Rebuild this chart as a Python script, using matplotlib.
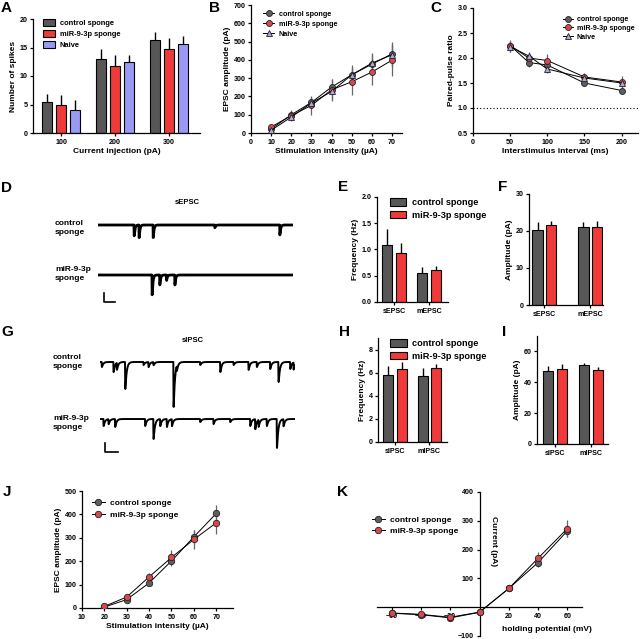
import numpy as np
import matplotlib
matplotlib.use("Agg")
import matplotlib.pyplot as plt
from matplotlib.patches import Patch
from matplotlib.lines import Line2D

plt.rcParams['font.family'] = ['Liberation Sans', 'DejaVu Sans']
plt.rcParams['font.weight'] = 'bold'
plt.rcParams['axes.labelweight'] = 'bold'
plt.rcParams['axes.linewidth'] = 0.9
plt.rcParams['xtick.major.width'] = 0.9
plt.rcParams['ytick.major.width'] = 0.9
plt.rcParams['xtick.major.size'] = 2.5
plt.rcParams['ytick.major.size'] = 2.5
plt.rcParams['xtick.labelsize'] = 5.1
plt.rcParams['ytick.labelsize'] = 5.1
plt.rcParams['xtick.major.pad'] = 1.5
plt.rcParams['ytick.major.pad'] = 1.5
plt.rcParams['axes.labelsize'] = 6.0

# ---------------- data ----------------
groups = ["control sponge", "miR-9-3p sponge", "Naive"]

# A
a_cats = ["100", "200", "300"]
a_ctrl = [5.4, 13.0, 16.4]
a_ctrl_err = [1.4, 1.7, 1.3]
a_mir = [5.0, 11.7, 14.7]
a_mir_err = [1.7, 2.0, 2.0]
a_naive = [4.0, 12.4, 15.6]
a_naive_err = [1.8, 1.2, 1.4]

# B
b_x = [10, 20, 30, 40, 50, 60, 70]
b_ctrl = [22, 100, 167, 251, 318, 376, 433]
b_ctrl_err = [10, 20, 30, 45, 55, 60, 65]
b_mir = [33, 95, 151, 236, 280, 333, 398]
b_mir_err = [10, 30, 50, 60, 70, 70, 85]
b_naive = [15, 87, 164, 227, 318, 382, 427]
b_naive_err = [10, 15, 25, 40, 45, 50, 60]

# C
c_x = [50, 75, 100, 150, 200]
c_ctrl = [2.25, 1.91, 1.86, 1.50, 1.35]
c_ctrl_err = [0.12, 0.08, 0.08, 0.06, 0.07]
c_mir = [2.25, 2.00, 1.95, 1.62, 1.52]
c_mir_err = [0.10, 0.10, 0.14, 0.08, 0.12]
c_naive = [2.23, 2.04, 1.78, 1.60, 1.50]
c_naive_err = [0.10, 0.08, 0.08, 0.06, 0.07]

# E / F
ef_cats = ["sEPSC", "mEPSC"]
e_ctrl = [1.09, 0.56]
e_ctrl_err = [0.30, 0.10]
e_mir = [0.93, 0.60]
e_mir_err = [0.20, 0.08]
f_ctrl = [20.4, 21.2]
f_ctrl_err = [1.9, 1.3]
f_mir = [21.7, 21.2]
f_mir_err = [1.0, 1.4]

# H / I
hi_cats = ["sIPSC", "mIPSC"]
h_ctrl = [5.8, 5.73]
h_ctrl_err = [0.8, 0.65]
h_mir = [6.34, 6.4]
h_mir_err = [0.6, 0.35]
i_ctrl = [47.3, 51.0]
i_ctrl_err = [3.0, 1.5]
i_mir = [48.8, 48.2]
i_mir_err = [2.8, 1.7]

# J
j_x = [20, 30, 40, 50, 60, 70]
j_ctrl = [4, 36, 107, 201, 304, 404]
j_ctrl_err = [5, 8, 12, 20, 30, 36]
j_mir = [7, 47, 133, 216, 293, 364]
j_mir_err = [5, 10, 15, 30, 40, 48]

# K
k_x = [-60, -40, -20, 0, 20, 40, 60]
k_ctrl = [-21, -26, -37, -18, 65, 155, 265]
k_ctrl_err = [8, 8, 8, 8, 8, 15, 20]
k_mir = [-20, -25, -35, -17, 65, 170, 273]
k_mir_err = [8, 8, 8, 8, 8, 20, 30]

# traces: event times (s) and amplitudes (pA)
d_ctrl_t = [3.32, 3.78, 5.08, 10.77, 16.77]
d_ctrl_a = [12, 14, 14, 3, 11]
d_mir_t = [4.98, 5.69, 6.31, 7.08]
d_mir_a = [22, 11, 6, 11]
g_ctrl_t = [0.15, 1.23, 1.54, 2.31, 4.0, 4.46, 4.92, 6.77, 7.08, 9.23, 11.08,
            12.31, 13.69, 14.46, 15.69, 16.46, 17.54, 17.85]
g_ctrl_a = [28, 56, 39, 150, 17, 28, 17, 250, 28, 17, 56, 17, 44, 28, 39, 111, 39, 39]
g_mir_t = [0.31, 0.77, 1.38, 4.15, 4.92, 5.54, 6.15, 6.62, 9.23, 10.46, 12.0,
           13.85, 14.31, 14.62, 15.38, 16.31, 16.92]
g_mir_a = [39, 28, 44, 39, 111, 39, 44, 39, 17, 28, 17, 39, 56, 39, 39, 161, 39]

# ---------------- style ----------------
C_GREY = '#575757'
C_RED = '#f03a3a'
C_NAIVE = '#9a9af5'
M_GREY = '#5e5e5e'
M_RED = '#d9484e'
M_NAIVE = '#aaaadf'

W, H = 640, 639
fig = plt.figure(figsize=(6.4, 6.39), dpi=100)


def ax_px(l, t, r, b):
    return fig.add_axes([l / W, 1 - b / H, (r - l) / W, (b - t) / H])


def ftext(x, y, s, **kw):
    fig.text(x / W, 1 - y / H, s, **kw)


def clean(ax):
    ax.spines['top'].set_visible(False)
    ax.spines['right'].set_visible(False)


def bars(ax, x0, series, colors, width, offsets):
    for vals, errs, col, off in zip(series[0], series[1], colors, offsets):
        xs = np.arange(len(vals)) + off
        ax.bar(xs, vals, width=width, color=col, edgecolor='black', linewidth=0.8, zorder=2)
        ax.errorbar(xs, vals, yerr=[np.zeros(len(vals)), errs], fmt='none',
                    ecolor='black', elinewidth=1.0, capsize=0, zorder=1)


def lines(ax, x, vals, errs, mk, mc, ms=4.3):
    ax.errorbar(x, vals, yerr=errs, fmt='none', ecolor='#666666', elinewidth=0.9,
                capsize=0, zorder=1)
    ax.plot(x, vals, color='black', lw=0.7, marker=mk, ms=ms, mfc=mc, mec='#222222',
            mew=0.6, zorder=3)


# ---------------- Panel A ----------------
ax = ax_px(33, 19, 200, 133)
clean(ax)
bars(ax, 0, ([a_ctrl, a_mir, a_naive], [a_ctrl_err, a_mir_err, a_naive_err]),
     [C_GREY, C_RED, C_NAIVE], 0.19, [-0.26, 0, 0.26])
ax.set_xlim(-0.52, 2.57)
ax.set_ylim(0, 20)
ax.set_yticks([0, 5, 10, 15, 20])
ax.set_xticks(range(len(a_cats)))
ax.set_xticklabels(a_cats)
ax.set_xlabel("Current injection (pA)", labelpad=2)
ax.set_ylabel("Number of spikes", labelpad=2)
h = [Patch(facecolor=c, edgecolor='black', linewidth=0.8) for c in [C_GREY, C_RED, C_NAIVE]]
ax.legend(h, groups, loc='upper left', bbox_to_anchor=(0.03, 1.04), frameon=False,
          fontsize=5.4, handlelength=1.7, handleheight=1.0, labelspacing=0.4,
          handletextpad=0.6, borderaxespad=0.2)

# ---------------- Panel B ----------------
ax = ax_px(251, 5, 402, 133)
clean(ax)
lines(ax, b_x, b_ctrl, b_ctrl_err, 'o', M_GREY)
lines(ax, b_x, b_mir, b_mir_err, 'o', M_RED)
lines(ax, b_x, b_naive, b_naive_err, '^', M_NAIVE)
ax.set_xlim(0, 75)
ax.set_ylim(0, 700)
ax.set_xticks(range(0, 71, 10))
ax.set_yticks(range(0, 701, 100))
ax.set_xlabel("Stimulation intensity (\u00b5A)", labelpad=2)
ax.set_ylabel("EPSC amplitude (pA)", labelpad=2)
hl = [Line2D([], [], color='black', lw=0.7, marker=m, ms=4.3, mfc=c, mec='#222222', mew=0.6)
      for m, c in [('o', M_GREY), ('o', M_RED), ('^', M_NAIVE)]]
ax.legend(hl, groups, loc='upper left', bbox_to_anchor=(0.05, 0.99), frameon=False,
          fontsize=5.2, handlelength=1.6, labelspacing=0.4, handletextpad=0.6,
          borderaxespad=0.2)

# ---------------- Panel C ----------------
ax = ax_px(473, 8, 638, 133)
clean(ax)
ax.axhline(1.0, color='black', ls=(0, (1, 2)), lw=0.8, zorder=0)
lines(ax, c_x, c_ctrl, c_ctrl_err, 'o', M_GREY)
lines(ax, c_x, c_mir, c_mir_err, 'o', M_RED)
lines(ax, c_x, c_naive, c_naive_err, '^', M_NAIVE)
ax.set_xlim(0, 222)
ax.set_ylim(0.5, 3.0)
ax.set_xticks([0, 50, 100, 150, 200])
ax.set_yticks([0.5, 1.0, 1.5, 2.0, 2.5, 3.0])
ax.set_yticklabels(["0.5", "1.0", "1.5", "2.0", "2.5", "3.0"])
ax.set_xlabel("Interstimulus interval (ms)", labelpad=2)
ax.set_ylabel("Paired-pulse ratio", labelpad=2)
ax.legend(hl, groups, loc='upper left', bbox_to_anchor=(0.52, 0.97), frameon=False,
          fontsize=5.1, handlelength=1.4, labelspacing=0.25, handletextpad=0.5,
          borderaxespad=0.2)


# ---------------- traces ----------------
def trace(times, amps, tau_r, tau_d, t):
    y = np.zeros_like(t)
    tp = tau_d * tau_r / (tau_d - tau_r) * np.log(tau_d / tau_r)
    norm = np.exp(-tp / tau_d) - np.exp(-tp / tau_r)
    for ti, ai in zip(times, amps):
        dt = t - ti
        m = dt > 0
        y[m] -= ai * (np.exp(-dt[m] / tau_d) - np.exp(-dt[m] / tau_r)) / norm
    return y


t = np.linspace(0, 18, 6000)


def trace_ax(l, t_, r, b, ylim, tt, aa, taur, taud, lw):
    a = ax_px(l, t_, r, b)
    a.set_axis_off()
    a.patch.set_alpha(0)
    a.plot(t, trace(tt, aa, taur, taud, t), color='black', lw=lw, solid_joinstyle='round')
    a.set_xlim(0, 18)
    a.set_ylim(*ylim)
    return a


# D
ftext(187, 202, "sEPSC", ha='center', va='center', fontsize=5.5)
ftext(55, 228, "control\nsponge", ha='left', va='center', fontsize=6.0, linespacing=1.25)
ftext(55, 274, "miR-9-3p\nsponge", ha='left', va='center', fontsize=6.0, linespacing=1.25)
trace_ax(98, 205, 293, 245, (-22.2, 22.2), d_ctrl_t, d_ctrl_a, 0.008, 0.07, 2.0)
a = trace_ax(98, 250, 293, 310, (-38.9, 27.8), d_mir_t, d_mir_a, 0.008, 0.07, 2.0)
a.plot([0.55, 0.55, 1.55], [-20, -30, -30], color='black', lw=1.2, clip_on=False)

# G
ftext(193, 341, "sIPSC", ha='center', va='center', fontsize=5.5)
ftext(53, 362, "control\nsponge", ha='left', va='center', fontsize=6.0, linespacing=1.25)
ftext(53, 423, "miR-9-3p\nsponge", ha='left', va='center', fontsize=6.0, linespacing=1.25)
trace_ax(100, 345, 295, 410, (-267, 94.5), g_ctrl_t, g_ctrl_a, 0.01, 0.12, 1.4)
a = trace_ax(100, 405, 295, 460, (-228, 78), g_mir_t, g_mir_a, 0.01, 0.12, 1.4)
a.plot([0.46, 0.46, 1.66], [-133, -183, -183], color='black', lw=1.2, clip_on=False)

# ---------------- Panel E ----------------
leg2 = [Patch(facecolor=c, edgecolor='black', linewidth=0.8) for c in [C_GREY, C_RED]]
ax = ax_px(377, 197, 448, 302)
clean(ax)
bars(ax, 0, ([e_ctrl, e_mir], [e_ctrl_err, e_mir_err]), [C_GREY, C_RED], 0.28, [-0.2, 0.2])
ax.set_xlim(-0.49, 1.54)
ax.set_ylim(0, 2.0)
ax.set_yticks([0, 0.5, 1.0, 1.5, 2.0])
ax.set_yticklabels(["0.0", "0.5", "1.0", "1.5", "2.0"])
ax.set_xticks([0, 1])
ax.set_xticklabels(ef_cats)
ax.set_ylabel("Frequency (Hz)", labelpad=2)
ax.legend(leg2, groups[:2], loc='upper left', bbox_to_anchor=(0.1, 1.04), frameon=False,
          fontsize=6.6, handlelength=1.8, handleheight=0.9, labelspacing=0.35,
          handletextpad=0.6, borderaxespad=0.2)

# ---------------- Panel F ----------------
ax = ax_px(529, 194, 603, 305)
clean(ax)
bars(ax, 0, ([f_ctrl, f_mir], [f_ctrl_err, f_mir_err]), [C_GREY, C_RED], 0.22, [-0.145, 0.145])
ax.set_xlim(-0.33, 1.28)
ax.set_ylim(0, 30)
ax.set_yticks([0, 10, 20, 30])
ax.set_xticks([0, 1])
ax.set_xticklabels(ef_cats)
ax.set_ylabel("Amplitude (pA)", labelpad=2)

# ---------------- Panel H ----------------
ax = ax_px(378, 338, 447, 442)
clean(ax)
bars(ax, 0, ([h_ctrl, h_mir], [h_ctrl_err, h_mir_err]), [C_GREY, C_RED], 0.29, [-0.2, 0.2])
ax.set_xlim(-0.49, 1.51)
ax.set_ylim(0, 9)
ax.set_yticks([0, 2, 4, 6, 8])
ax.set_xticks([0, 1])
ax.set_xticklabels(hi_cats)
ax.set_ylabel("Frequency (Hz)", labelpad=2)
ax.legend(leg2, groups[:2], loc='upper left', bbox_to_anchor=(0.1, 1.04), frameon=False,
          fontsize=6.6, handlelength=1.8, handleheight=0.9, labelspacing=0.35,
          handletextpad=0.6, borderaxespad=0.2)

# ---------------- Panel I ----------------
ax = ax_px(537, 336, 608, 444)
clean(ax)
bars(ax, 0, ([i_ctrl, i_mir], [i_ctrl_err, i_mir_err]), [C_GREY, C_RED], 0.28, [-0.19, 0.19])
ax.set_xlim(-0.5, 1.47)
ax.set_ylim(0, 70)
ax.set_yticks([0, 20, 40, 60])
ax.set_xticks([0, 1])
ax.set_xticklabels(hi_cats)
ax.set_ylabel("Amplitude (pA)", labelpad=2)

# ---------------- Panel J ----------------
ax = ax_px(82, 491, 233, 608)
clean(ax)
lines(ax, j_x, j_ctrl, j_ctrl_err, 'o', M_GREY, 4.6)
lines(ax, j_x, j_mir, j_mir_err, 'o', M_RED, 4.6)
ax.set_xlim(10, 77.5)
ax.set_ylim(0, 500)
ax.set_xticks(range(10, 71, 10))
ax.set_yticks(range(0, 501, 100))
ax.set_xlabel("Stimulation intensity (\u00b5A)", labelpad=2)
ax.set_ylabel("EPSC amplitude (pA)", labelpad=2)
hl2 = [Line2D([], [], color='black', lw=0.7, marker='o', ms=4.6, mfc=c, mec='#222222', mew=0.6)
       for c in [M_GREY, M_RED]]
ax.legend(hl2, groups[:2], loc='upper left', bbox_to_anchor=(0.03, 0.97), frameon=False,
          fontsize=6.0, handlelength=1.6, labelspacing=0.4, handletextpad=0.6,
          borderaxespad=0.2)

# ---------------- Panel K ----------------
ax = ax_px(377, 492, 582, 636)
ax.spines['top'].set_visible(False)
ax.spines['right'].set_visible(False)
ax.spines['left'].set_position(('data', 0))
ax.spines['bottom'].set_position(('data', 0))
lines(ax, k_x, k_ctrl, k_ctrl_err, 'o', M_GREY, 4.6)
lines(ax, k_x, k_mir, k_mir_err, 'o', M_RED, 4.6)
ax.set_xlim(-70, 70)
ax.set_ylim(-100, 400)
ax.set_xticks([-60, -40, -20, 20, 40, 60])
ax.set_yticks([-100, 100, 200, 300, 400])
ax.text(7, 318, "Current (pA)", rotation=-90, ha='left', va='top', fontsize=6.0)
ax.text(46, -78, "holding potential (mV)", ha='center', va='center', fontsize=6.0)
ax.legend(hl2, groups[:2], loc='upper left', bbox_to_anchor=(-0.05, 0.87), frameon=False,
          fontsize=6.0, handlelength=1.6, labelspacing=0.4, handletextpad=0.6,
          borderaxespad=0.2)

# ---------------- panel letters ----------------
for lab, x, y in [("A", 6, 8), ("B", 215, 8), ("C", 436, 8), ("D", 7, 188), ("E", 343, 187),
                  ("F", 503, 187), ("G", 7, 332), ("H", 344, 332), ("I", 504, 332),
                  ("J", 7, 492), ("K", 343, 492)]:
    ftext(x, y, lab, ha='center', va='center', fontsize=11, fontweight='bold')

fig.savefig("out.png", dpi=100)
